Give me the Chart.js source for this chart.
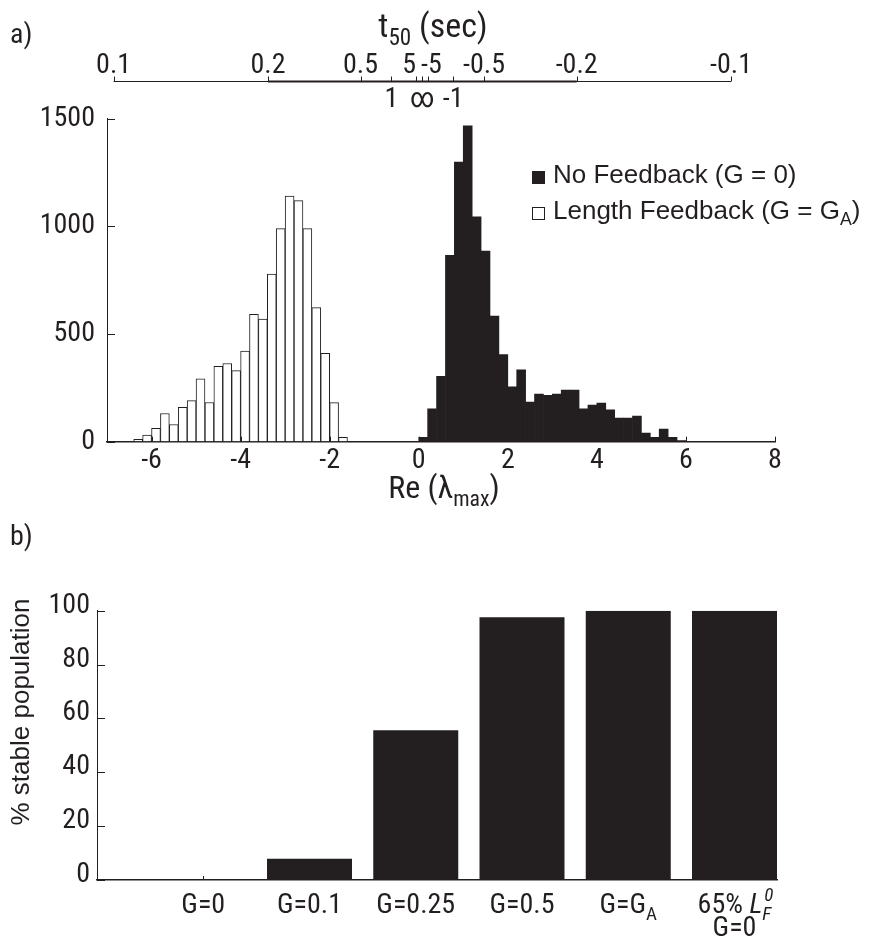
<!DOCTYPE html>
<html>
<head>
<meta charset="utf-8">
<script src="https://cdn.jsdelivr.net/npm/chart.js@4.4.1/dist/chart.umd.min.js"></script>
<style>
  body { margin: 0; background: #fff; }
  #wrapA { position: absolute; left: 0; top: 0; width: 872px; height: 515px; }
  #wrapB { position: absolute; left: 0; top: 515px; width: 872px; height: 424px; }
</style>
</head>
<body>
<div id="wrapA"><canvas id="histChart" width="872" height="515"></canvas></div>
<div id="wrapB"><canvas id="stableChart" width="872" height="424"></canvas></div>
<script>
// ---- panel a: histogram of Re(lambda_max), bins of 0.2 ----
const lengthFbBins = [-6.3, -6.1, -5.9, -5.7, -5.5, -5.3, -5.1, -4.9, -4.7, -4.5, -4.3, -4.1,
                      -3.9, -3.7, -3.5, -3.3, -3.1, -2.9, -2.7, -2.5, -2.3, -2.1, -1.9, -1.7];
const lengthFbCounts = [11, 31, 62, 131, 80, 160, 191, 292, 182, 350, 363, 330,
                        421, 591, 569, 778, 989, 1140, 1119, 989, 622, 410, 181, 20];
const noFbBins = [0.1, 0.3, 0.5, 0.7, 0.9, 1.1, 1.3, 1.5, 1.7, 1.9, 2.1, 2.3, 2.5, 2.7, 2.9,
                  3.1, 3.3, 3.5, 3.7, 3.9, 4.1, 4.3, 4.5, 4.7, 4.9, 5.1, 5.3, 5.5, 5.7, 5.9];
const noFbCounts = [20, 153, 303, 865, 1298, 1466, 1044, 885, 583, 404, 255, 333, 184, 221, 215,
                    221, 240, 240, 152, 170, 179, 148, 110, 110, 119, 40, 20, 59, 20, 5];
const lambdaTicks = [-6, -4, -2, 0, 2, 4, 6, 8];
const countTicks = [0, 500, 1000, 1500];
// top axis: half-life t50 = -ln2 / lambda
const t50Above = [0.1, 0.2, 0.5, 5, -5, -0.5, -0.2, -0.1];
const t50Below = [1, Infinity, -1];

// ---- panel b: % stable population ----
const gainLabels = [
    [[{ t: 'G=0' }]],
    [[{ t: 'G=0.1' }]],
    [[{ t: 'G=0.25' }]],
    [[{ t: 'G=0.5' }]],
    [[{ t: 'G=G' }, { sub: 'A' }]],
    [[{ t: '65% ' }, { t: 'L', italic: true }, { sup: '0', sub: 'F', italic: true }], [{ t: 'G=0' }]]
];
const stablePct = [0, 7.9, 55.6, 97.6, 100, 100];

const ink = '#231f20';
const NARROW = "'Roboto Condensed', 'Liberation Sans', sans-serif";
const WIDE = "'Liberation Sans', Arial, sans-serif";
Chart.defaults.font.family = NARROW;
Chart.defaults.color = ink;

function fontFor(size, italic, fam) {
    return (italic ? 'italic ' : '') + size + 'px ' + (fam || NARROW);
}
function partWidth(ctx, p, size, fam) {
    if (p.t !== undefined) {
        ctx.font = fontFor(size, p.italic, fam);
        return ctx.measureText(p.t).width;
    }
    ctx.font = fontFor(size * 0.68, p.italic, fam);
    return Math.max(p.sup ? ctx.measureText(p.sup).width : 0, p.sub ? ctx.measureText(p.sub).width : 0);
}
function drawRich(ctx, parts, x, y, size, align, fam) {
    const widths = parts.map(p => partWidth(ctx, p, size, fam));
    const total = widths.reduce((a, b) => a + b, 0);
    let cx = align === 'center' ? x - total / 2 : align === 'right' ? x - total : x;
    ctx.textAlign = 'left';
    ctx.textBaseline = 'alphabetic';
    ctx.fillStyle = ink;
    parts.forEach((p, i) => {
        if (p.t !== undefined) {
            ctx.font = fontFor(size, p.italic, fam);
            ctx.fillText(p.t, cx, y);
        } else {
            ctx.font = fontFor(size * 0.68, p.italic, fam);
            if (p.sup) ctx.fillText(p.sup, cx + 2, y - size * 0.42);
            if (p.sub) ctx.fillText(p.sub, cx, y + size * 0.24);
        }
        cx += widths[i];
    });
}

// short tick marks drawn inside the plot area
const inwardTicks = {
    id: 'inwardTicks',
    afterDatasetsDraw(chart, args, opts) {
        const { ctx, chartArea } = chart;
        ctx.save();
        ctx.strokeStyle = ink;
        ctx.lineWidth = 1;
        (opts.scales || []).forEach(({ id, len }) => {
            const s = chart.scales[id];
            s.ticks.forEach(t => {
                const p = Math.round(s.getPixelForValue(t.value)) + 0.5;
                ctx.beginPath();
                if (s.isHorizontal()) {
                    ctx.moveTo(p, chartArea.bottom);
                    ctx.lineTo(p, chartArea.bottom - len);
                } else {
                    ctx.moveTo(chartArea.left, p);
                    ctx.lineTo(chartArea.left + len, p);
                }
                ctx.stroke();
            });
        });
        ctx.restore();
    }
};

const topAxisShift = 0.08;   // the printed t50 axis sits slightly right of the lambda axis
const lam = t => -Math.LN2 / t + topAxisShift;
const t50Text = t => (t === Infinity ? '\u221e' : String(t));

const panelA = {
    id: 'panelA',
    afterDraw(chart) {
        const { ctx, chartArea } = chart;
        const xs = chart.scales.x;
        const px = t => xs.getPixelForValue(lam(t));
        const lineY = 81.5;
        ctx.save();
        ctx.strokeStyle = ink;
        // top t50 axis
        ctx.lineWidth = 1;
        ctx.beginPath();
        ctx.moveTo(px(0.1), lineY);
        ctx.lineTo(px(-0.1), lineY);
        ctx.stroke();
        ctx.lineWidth = 2;
        ctx.beginPath();
        ctx.moveTo(px(0.2), lineY);
        ctx.lineTo(px(-0.2), lineY);
        ctx.stroke();
        ctx.lineWidth = 1;
        t50Above.concat(t50Below).forEach(t => {
            const p = Math.round(px(t)) + 0.5;
            ctx.beginPath();
            ctx.moveTo(p, lineY);
            ctx.lineTo(p, lineY - 5);
            ctx.stroke();
        });
        ctx.fillStyle = ink;
        ctx.font = fontFor(28);
        ctx.textAlign = 'center';
        ctx.textBaseline = 'alphabetic';
        const nudge = { '5': -7, '-5': 3 };
        t50Above.forEach(t => {
            const s = t50Text(t);
            ctx.fillText(s, px(t) + (nudge[s] || 0), 73);
        });
        t50Below.forEach(t => {
            ctx.fillText(t50Text(t), px(t), 107);
        });
        drawRich(ctx, [{ t: 't' }, { sub: '50' }, { t: ' (sec)' }], 433, 37, 34, 'center');
        // panel letter and x title
        ctx.font = fontFor(28);
        ctx.textAlign = 'left';
        ctx.fillText('a)', 10, 43);
        drawRich(ctx, [{ t: 'Re (' }, { t: '\u03bb' }, { sub: 'max' }, { t: ')' }],
            (chartArea.left + chartArea.right) / 2 + 3, 498, 32, 'center');
        // legend
        const legendParts = [
            [{ t: 'No Feedback (G = 0)' }],
            [{ t: 'Length Feedback (G = G' }, { sub: 'A' }, { t: ')' }]
        ];
        chart.data.datasets.forEach((ds, i) => {
            const y = 171 + i * 36;
            ctx.fillStyle = ds.backgroundColor;
            ctx.fillRect(532, y, 13, 13);
            if (ds.borderWidth) {
                ctx.strokeStyle = ink;
                ctx.lineWidth = 1;
                ctx.strokeRect(532.5, y + 0.5, 12, 12);
            }
            drawRich(ctx, legendParts[i], 553, y + 12, 26, 'left', WIDE);
        });
        ctx.restore();
    }
};

new Chart(document.getElementById('histChart'), {
    type: 'bar',
    data: {
        datasets: [
            {
                label: 'No Feedback (G = 0)',
                data: noFbBins.map((x, i) => ({ x, y: noFbCounts[i] })),
                backgroundColor: ink,
                borderWidth: 0,
                grouped: false,
                barPercentage: 1,
                categoryPercentage: 1
            },
            {
                label: 'Length Feedback (G = GA)',
                data: lengthFbBins.map((x, i) => ({ x, y: lengthFbCounts[i] })),
                backgroundColor: '#ffffff',
                borderColor: ink,
                borderWidth: 1,
                grouped: false,
                barPercentage: 1,
                categoryPercentage: 1
            }
        ]
    },
    options: {
        responsive: false,
        animation: false,
        devicePixelRatio: 1,
        events: [],
        layout: { padding: { left: 0, right: 97, top: 118.5, bottom: 0 } },
        plugins: { legend: { display: false }, tooltip: { enabled: false }, inwardTicks: { scales: [{ id: 'x', len: 5 }, { id: 'y', len: 8 }] } },
        scales: {
            x: {
                type: 'linear', min: -7, max: 8, offset: false,
                afterBuildTicks: s => { s.ticks = lambdaTicks.map(v => ({ value: v })); },
                afterFit: s => { s.height = 515 - 441.7; },
                grid: { drawOnChartArea: false, drawTicks: false },
                border: { color: ink, width: 1.5 },
                ticks: { font: { size: 28 }, padding: 2, color: ink, maxRotation: 0, callback: v => String(v) }
            },
            y: {
                min: 0, max: 1500,
                afterBuildTicks: s => { s.ticks = countTicks.map(v => ({ value: v })); },
                afterFit: s => { s.width = 107; },
                grid: { drawOnChartArea: false, drawTicks: false },
                border: { color: ink, width: 1 },
                ticks: { font: { size: 28 }, padding: 12, color: ink, callback: v => String(v) }
            }
        }
    },
    plugins: [inwardTicks, panelA]
});

const panelB = {
    id: 'panelB',
    afterDraw(chart) {
        const { ctx } = chart;
        const xs = chart.scales.x;
        ctx.save();
        ctx.fillStyle = ink;
        ctx.font = fontFor(28);
        ctx.textAlign = 'left';
        ctx.textBaseline = 'alphabetic';
        ctx.fillText('b)', 10, 30);
        gainLabels.forEach((lines, i) => {
            const px = xs.getPixelForValue(i + 1);
            lines.forEach((parts, j) => drawRich(ctx, parts, px, 398 + j * 23, 28, 'center'));
        });
        ctx.translate(29, 197);
        ctx.rotate(-Math.PI / 2);
        ctx.font = fontFor(26, false, WIDE);
        ctx.textAlign = 'center';
        ctx.fillText('% stable population', 0, 0);
        ctx.restore();
    }
};

new Chart(document.getElementById('stableChart'), {
    type: 'bar',
    data: {
        datasets: [{
            label: '% stable population',
            data: stablePct.map((y, i) => ({ x: i + 1, y })),
            backgroundColor: ink,
            borderWidth: 0,
            barPercentage: 0.8,
            categoryPercentage: 1
        }]
    },
    options: {
        responsive: false,
        animation: false,
        devicePixelRatio: 1,
        events: [],
        layout: { padding: { left: 0, right: 95, top: 95.7, bottom: 0 } },
        plugins: { legend: { display: false }, tooltip: { enabled: false }, inwardTicks: { scales: [{ id: 'x', len: 4 }, { id: 'y', len: 8 }] } },
        scales: {
            x: {
                type: 'linear', min: 0, max: 6.4, offset: false,
                afterBuildTicks: s => { s.ticks = gainLabels.map((l, i) => ({ value: i + 1 })); },
                afterFit: s => { s.height = 59; },
                grid: { drawOnChartArea: false, drawTicks: false },
                border: { color: ink, width: 1.5 },
                ticks: { display: false }
            },
            y: {
                min: 0, max: 100,
                ticks: { stepSize: 10, font: { size: 28 }, padding: 7, color: ink, labelOffset: -5,
                         callback: v => (v % 20 === 0 ? String(v) : '') },
                afterFit: s => { s.width = 97; },
                grid: { drawOnChartArea: false, drawTicks: false },
                border: { color: ink, width: 1 }
            }
        }
    },
    plugins: [inwardTicks, panelB]
});
</script>
</body>
</html>
